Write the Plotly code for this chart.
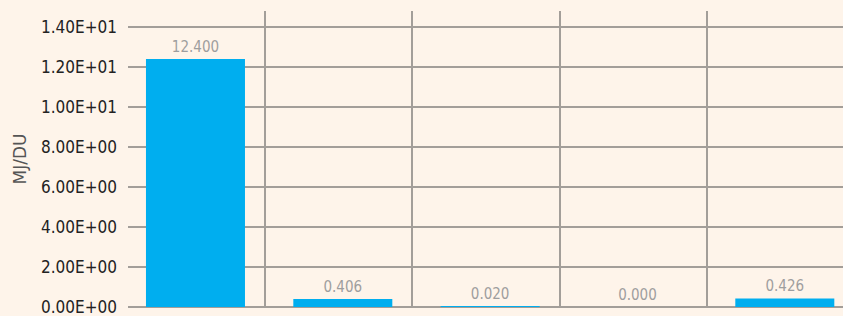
import plotly.graph_objects as go

categories = ["1", "2", "3", "4", "5"]
values = [12.400, 0.406, 0.020, 0.000, 0.426]
value_labels = ["12.400", "0.406", "0.020", "0.000", "0.426"]
y_ticks = [0, 2, 4, 6, 8, 10, 12, 14]
y_tick_labels = ["0.00E+00", "2.00E+00", "4.00E+00", "6.00E+00", "8.00E+00",
                 "1.00E+01", "1.20E+01", "1.40E+01"]

BG = "#FEF4EA"
GRID = "#A39E99"
FONT = "DejaVu Sans Condensed, DejaVu Sans"

fig = go.Figure(go.Bar(
    x=categories, y=values,
    marker=dict(color="#00AEEF", line=dict(width=0)),
    width=0.672, offset=-0.308,
    text=value_labels, textposition="outside", cliponaxis=False,
    textfont=dict(family=FONT, size=15, color="#9E9E9E"),
))

fig.update_layout(
    width=843, height=316,
    margin=dict(l=128, r=0, t=11, b=9, autoexpand=False),
    paper_bgcolor=BG, plot_bgcolor=BG,
    showlegend=False,
    font=dict(family=FONT),
)
fig.update_xaxes(
    type="category", range=[-0.43, 4.423], automargin=False,
    showticklabels=False, ticks="",
    showgrid=True, gridcolor=GRID, gridwidth=1.5, tickson="boundaries",
    showline=False, zeroline=False,
)
fig.update_yaxes(
    range=[0, 14.8], tickvals=y_ticks, ticktext=y_tick_labels, automargin=False,
    tickfont=dict(family=FONT, size=17, color="#222222"),
    ticklabelstandoff=10, ticklabeloverflow="allow",
    showgrid=True, gridcolor=GRID, gridwidth=1.5,
    zeroline=True, zerolinecolor=GRID, zerolinewidth=1.5,
    showline=False,
    title=dict(text="MJ/DU", font=dict(family="DejaVu Sans", size=17, color="#555555"), standoff=10),
)

fig.write_html(
    "out.html",
    config={"displayModeBar": False},
    post_script="document.body.style.margin='0';document.body.style.overflow='hidden';document.body.style.background='#FEF4EA';",
)
